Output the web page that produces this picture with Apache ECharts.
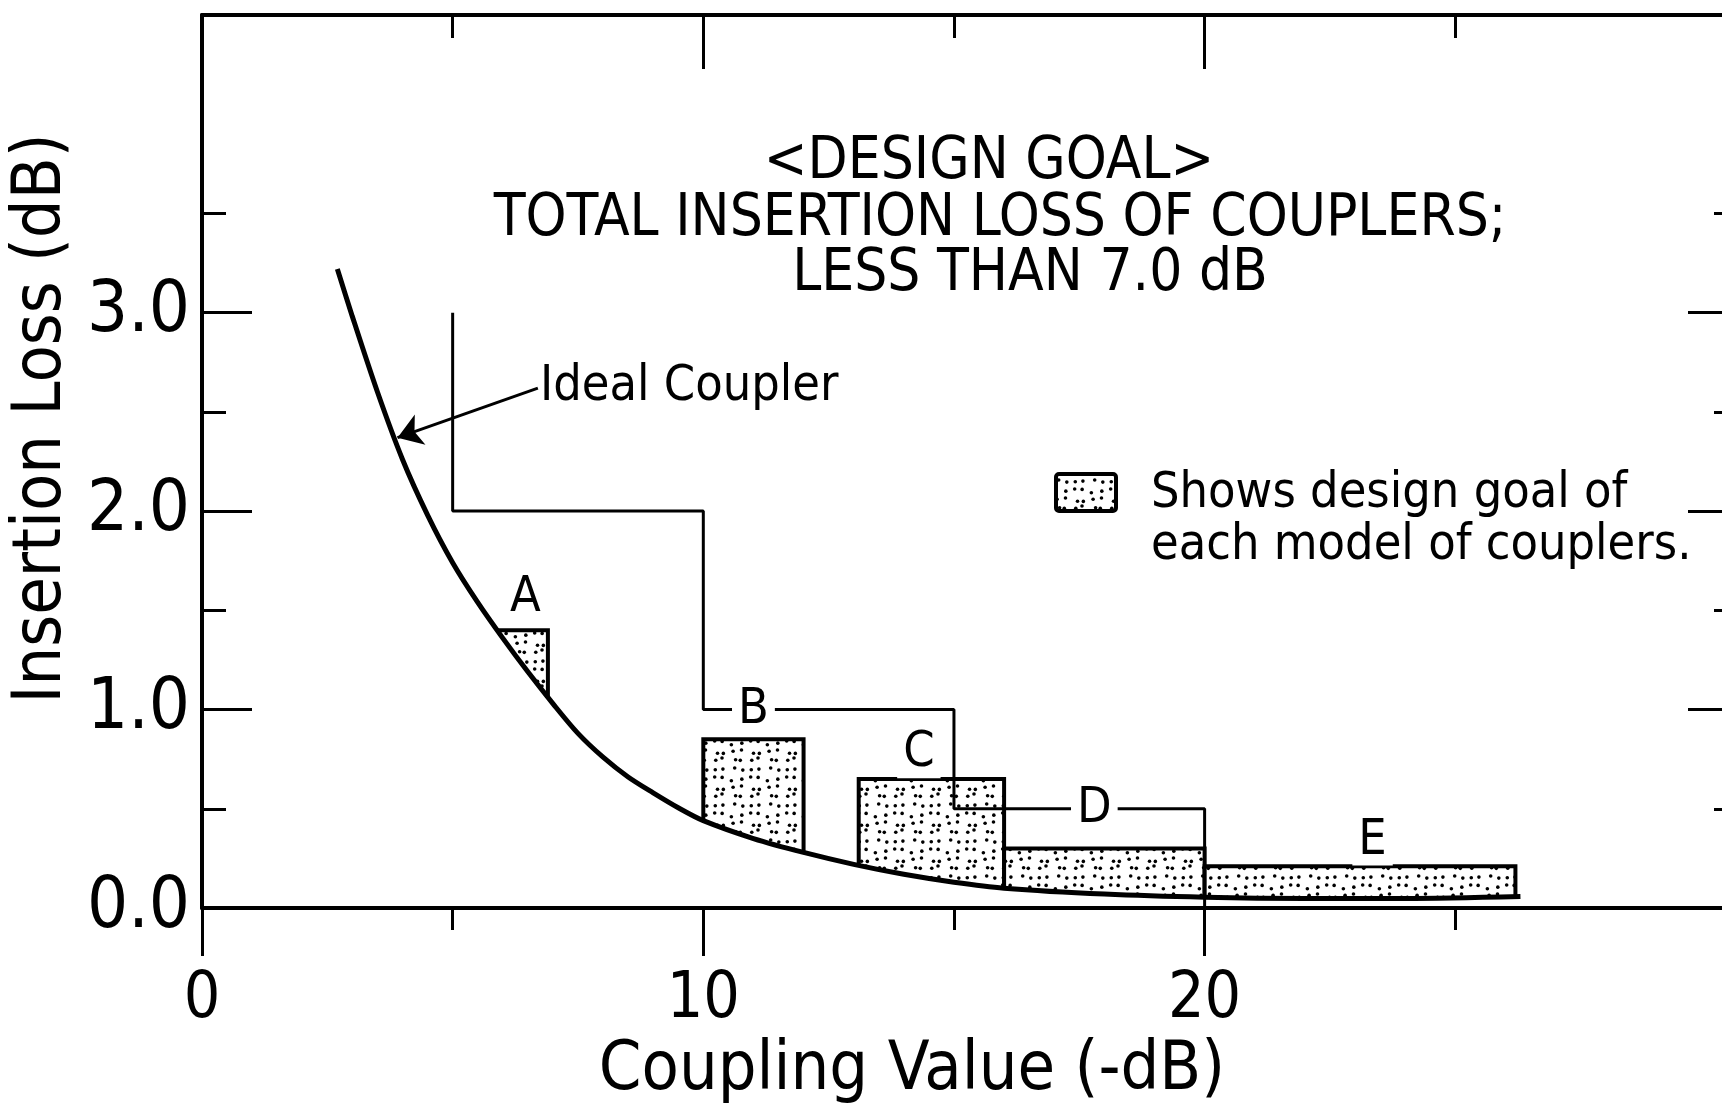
<!DOCTYPE html>
<html lang="en">
<head>
    <meta charset="UTF-8">
    <title>Insertion Loss vs Coupling Value</title>
    <script src="https://cdn.jsdelivr.net/npm/echarts@6/dist/echarts.min.js"></script>
    <style>
        html, body { margin: 0; padding: 0; background: #fff; }
        #chart { width: 1722px; height: 1114px; }
    </style>
</head>
<body>
<div id="chart"></div>
<script>
    // ideal coupler curve
    var curveX = [2.7, 3.0, 3.5, 4.0, 4.5, 5.0, 5.5, 6.0, 6.5, 7.0, 7.5, 8.0, 8.5, 9.0, 9.5, 10, 11, 12, 13, 14, 15, 16, 18, 20, 22, 24, 26.3];
    var curveY = [3.22, 2.98, 2.6, 2.26, 1.98, 1.74, 1.54, 1.36, 1.19, 1.03, 0.88, 0.76, 0.66, 0.58, 0.505, 0.44, 0.35, 0.28, 0.22, 0.17, 0.13, 0.1, 0.07, 0.054, 0.048, 0.048, 0.058];

    // stepped limit line
    var stepX = [5, 5, 10, 10, 15, 15, 20, 20];
    var stepY = [3.0, 2.0, 2.0, 1.0, 1.0, 0.5, 0.5, 0];

    // design goal boxes A..E
    var boxNames = ['A', 'B', 'C', 'D', 'E'];
    var boxLeft = [5.85, 10.0, 13.1, 16.0, 20.0];
    var boxRight = [6.9, 12.0, 16.0, 20.0, 26.2];
    var boxTop = [1.4, 0.85, 0.65, 0.3, 0.21];
    var labelX = [6.45, 11.0, 14.3, 17.8, 23.35];
    var labelY = [1.56, 1.0, 0.78, 0.5, 0.34];

    // ticks
    var xMajorTicks = [0, 10, 20];
    var xMinorTicks = [5, 15, 25];
    var yMajorTicks = [1, 2, 3];
    var yMinorTicks = [0.5, 1.5, 2.5, 3.5];
    var yTickLabels = [0, 1, 2, 3];

    var FONT = '"DejaVu Sans Condensed", "DejaVu Sans", sans-serif';
    var X_MAX = 30.6, Y_MAX = 4.5;

    // stipple texture for the shaded boxes
    function makeDots() {
        var c = document.createElement('canvas');
        c.width = 36; c.height = 36;
        var g = c.getContext('2d');
        g.fillStyle = '#fff';
        g.fillRect(0, 0, 36, 36);
        g.fillStyle = '#000';
        for (var i = 0; i < 4; i++) {
            for (var j = 0; j < 4; j++) {
                var h1 = Math.sin(i * 12.9898 + j * 78.233) * 43758.5453;
                var h2 = Math.sin(i * 39.346 + j * 11.135) * 24634.634;
                var fx = h1 - Math.floor(h1), fy = h2 - Math.floor(h2);
                g.beginPath();
                g.arc(i * 9 + 2 + fx * 5, j * 9 + 2 + fy * 5, 1.8, 0, Math.PI * 2);
                g.fill();
            }
        }
        return c;
    }
    var dots = {image: makeDots(), repeat: 'repeat'};

    var curveData = curveX.map(function (x, i) { return [x, curveY[i]]; });
    var stepData = stepX.map(function (x, i) { return [x, stepY[i]]; });
    var boxData = boxNames.map(function (n, i) { return [boxLeft[i], boxRight[i], boxTop[i]]; });
    var labelData = boxNames.map(function (n, i) { return {name: n, value: [labelX[i], labelY[i]]}; });

    function xAxisOf(pos, ticks, len, inside, line) {
        return {
            type: 'value', position: pos, min: 0, max: X_MAX, z: 10,
            axisLine: {show: line, onZero: false, lineStyle: {color: '#000', width: 4}},
            axisTick: {show: true, inside: inside, length: len, customValues: ticks, lineStyle: {color: '#000', width: 3}},
            axisLabel: {show: false},
            splitLine: {show: false}
        };
    }
    function yAxisOf(pos, ticks, len, line) {
        return {
            type: 'value', position: pos, min: 0, max: Y_MAX, z: 10,
            axisLine: {show: line, onZero: false, lineStyle: {color: '#000', width: 4}},
            axisTick: {show: true, inside: true, length: len, customValues: ticks, lineStyle: {color: '#000', width: 3}},
            axisLabel: {show: false},
            splitLine: {show: false}
        };
    }

    var xMain = xAxisOf('bottom', xMajorTicks, 48, false, true);
    xMain.axisLabel = {
        show: true, customValues: xMajorTicks, margin: 60,
        fontFamily: FONT, fontSize: 64, color: '#000'
    };
    xMain.name = 'Coupling Value (-dB)';
    xMain.nameLocation = 'middle';
    xMain.nameGap = 122;
    xMain.nameTextStyle = {fontFamily: FONT, fontSize: 68, color: '#000', padding: [0, 114, 0, 0]};

    var yMain = yAxisOf('left', yMajorTicks, 50, true);
    yMain.axisLabel = {
        show: true, customValues: yTickLabels, margin: 12,
        fontFamily: FONT, fontSize: 72, color: '#000',
        formatter: function (v) { return v.toFixed(1); }
    };
    yMain.name = 'Insertion Loss (dB)';
    yMain.nameLocation = 'middle';
    yMain.nameGap = 125;
    yMain.nameTextStyle = {fontFamily: FONT, fontSize: 68, color: '#000', padding: [0, 0, 0, 86]};

    var option = {
        backgroundColor: '#fff',
        animation: false,
        grid: {left: 202, top: 15, width: 1534, height: 893, containLabel: false, outerBoundsMode: 'none'},
        xAxis: [
            xMain,
            xAxisOf('bottom', xMinorTicks, 22, false, false),
            xAxisOf('top', [10, 20], 54, true, true),
            xAxisOf('top', xMinorTicks, 23, true, false)
        ],
        yAxis: [
            yMain,
            yAxisOf('left', yMinorTicks, 24, false),
            yAxisOf('right', yMajorTicks, 48, true),
            yAxisOf('right', yMinorTicks, 22, false)
        ],
        graphic: [
            {type: 'text', x: 989, y: 163, style: {text: '<DESIGN GOAL>', font: '58px ' + FONT, fill: '#000', align: 'center', verticalAlign: 'middle'}},
            {type: 'text', x: 1000, y: 220, style: {text: 'TOTAL INSERTION LOSS OF COUPLERS;', font: '58px ' + FONT, fill: '#000', align: 'center', verticalAlign: 'middle'}},
            {type: 'text', x: 1030, y: 275, style: {text: 'LESS THAN 7.0 dB', font: '58px ' + FONT, fill: '#000', align: 'center', verticalAlign: 'middle'}},
            {type: 'text', x: 540, y: 387, style: {text: 'Ideal Coupler', font: '50px ' + FONT, fill: '#000', align: 'left', verticalAlign: 'middle'}},
            {type: 'rect', shape: {x: 1056, y: 474, width: 60, height: 37, r: 3}, style: {fill: dots, stroke: '#000', lineWidth: 4}},
            {type: 'text', x: 1151, y: 494, style: {text: 'Shows design goal of', font: '50px ' + FONT, fill: '#000', align: 'left', verticalAlign: 'middle'}},
            {type: 'text', x: 1151, y: 546, style: {text: 'each model of couplers.', font: '50px ' + FONT, fill: '#000', align: 'left', verticalAlign: 'middle'}}
        ],
        series: [
            {
                name: 'Design goal',
                type: 'custom',
                z: 2,
                clip: false,
                encode: {x: [0, 1], y: 2},
                data: boxData,
                renderItem: function (params, api) {
                    var p0 = api.coord([api.value(0), api.value(2)]);
                    var p1 = api.coord([api.value(1), 0]);
                    return {
                        type: 'rect',
                        shape: {x: p0[0], y: p0[1], width: p1[0] - p0[0], height: p1[1] - p0[1]},
                        style: {fill: dots, stroke: '#000', lineWidth: 4}
                    };
                }
            },
            {
                name: 'Ideal Coupler',
                type: 'line',
                z: 3,
                smooth: 0.3,
                symbol: 'none',
                data: curveData,
                lineStyle: {color: '#000', width: 5},
                areaStyle: {color: '#fff', opacity: 1}
            },
            {
                name: 'Limit',
                type: 'line',
                z: 4,
                symbol: 'none',
                data: stepData,
                lineStyle: {color: '#000', width: 3},
                markLine: {
                    silent: true,
                    symbol: ['none', 'arrow'],
                    symbolSize: 24,
                    label: {show: false},
                    lineStyle: {color: '#000', width: 3, type: 'solid'},
                    data: [[{coord: [6.7, 2.62]}, {coord: [3.9, 2.37]}]]
                }
            },
            {
                name: 'Labels',
                type: 'scatter',
                z: 6,
                symbolSize: 0,
                itemStyle: {opacity: 1},
                data: labelData,
                label: {
                    show: true, position: 'inside',
                    formatter: '{b}',
                    fontFamily: FONT, fontSize: 50, color: '#000',
                    backgroundColor: '#fff', padding: [0, 6]
                }
            }
        ]
    };

    var chart = echarts.init(document.getElementById('chart'));
    chart.setOption(option);
</script>
</body>
</html>
